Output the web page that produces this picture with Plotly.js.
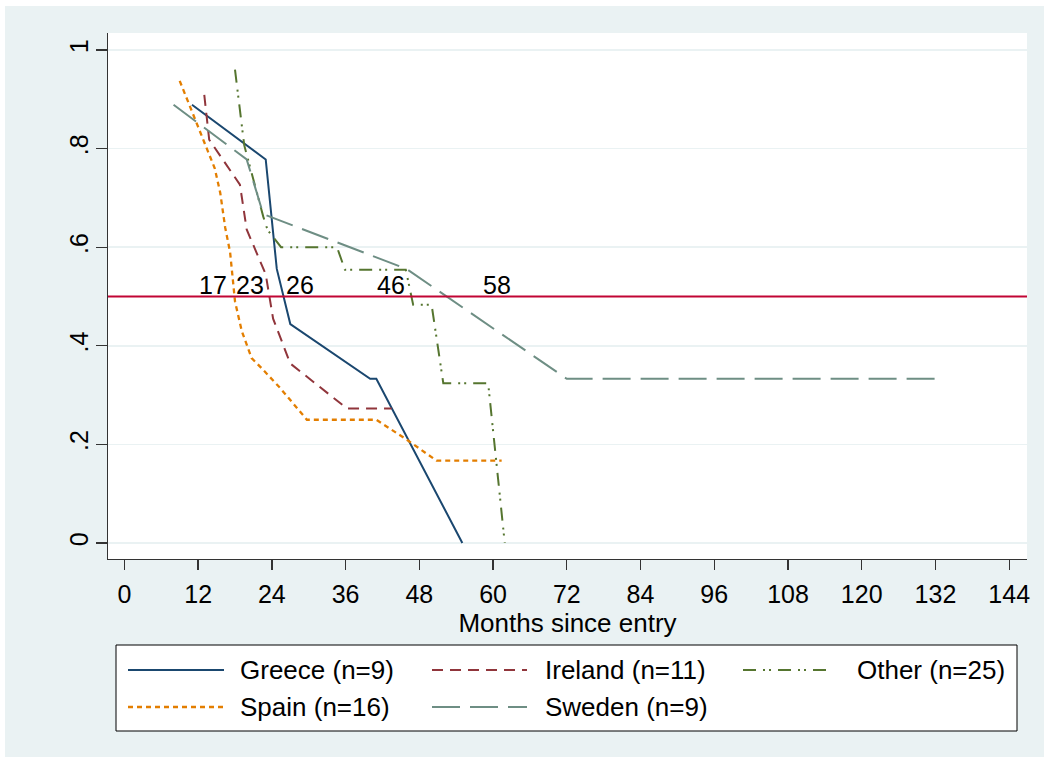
<!DOCTYPE html>
<html>
<head>
<meta charset="utf-8">
<script src="https://cdn.plot.ly/plotly-3.0.1.min.js"></script>
<style>html,body{margin:0;padding:0;background:#fff;}</style>
</head>
<body>
<div id="chart" style="width:1049px;height:763px;"></div>
<script>
// ---- data ----
const greeceX = [11, 23, 24.8, 27, 40, 41, 55];
const greeceY = [0.889, 0.778, 0.556, 0.444, 0.333, 0.333, 0];

const irelandX = [13, 13.8, 18.8, 19.9, 23, 24.2, 27, 36.2, 43.5];
const irelandY = [0.909, 0.818, 0.727, 0.636, 0.545, 0.455, 0.364, 0.273, 0.273];

const otherX = [18, 19.5, 22.6, 23.3, 25.5, 34.6, 35.9, 45.8, 47, 50, 51.9, 59.2, 61.9];
const otherY = [0.96, 0.807, 0.662, 0.635, 0.60, 0.60, 0.554, 0.554, 0.483, 0.483, 0.324, 0.324, 0];

const spainX = [9, 11.8, 14.7, 15.6, 16.4, 17.2, 18, 19.1, 20.7, 22.3, 25.3, 29.7, 41, 45.9, 50.8, 61.4];
const spainY = [0.9375, 0.85, 0.76, 0.71, 0.64, 0.59, 0.49, 0.43, 0.375, 0.355, 0.315, 0.25, 0.25, 0.21, 0.167, 0.167];

const swedenX = [8, 19.9, 22.6, 45.9, 72, 132];
const swedenY = [0.889, 0.778, 0.667, 0.556, 0.333, 0.333];

const seriesNames = ["Greece (n=9)", "Ireland (n=11)", "Other (n=25)", "Spain (n=16)", "Sweden (n=9)"];

const medianLevel = 0.5;
const medianLabels = [17, 23, 26, 46, 58];

const xTickVals = [0, 12, 24, 36, 48, 60, 72, 84, 96, 108, 120, 132, 144];
const yTickVals = [0, 0.2, 0.4, 0.6, 0.8, 1];
const yTickText = ["0", ".2", ".4", ".6", ".8", "1"];
const xTitle = "Months since entry";

// ---- styling ----
const FONT = "Liberation Sans, Arial, Helvetica, sans-serif";
const W = 1049, H = 763;
const M = {l: 108, r: 22, t: 33, b: 204};
const PW = W - M.l - M.r, PH = H - M.t - M.b;
const px = x => (x - M.l) / PW;
const py = y => (H - M.b - y) / PH;

const styles = [
  {color: "#1a476f", dash: "solid", width: 2},
  {color: "#90353b", dash: "11px,7px", width: 2},
  {color: "#55752f", dash: "13px,7px,2px,4px,2px,7px", width: 2},
  {color: "#e37e00", dash: "5px,4px", width: 2.3},
  {color: "#6e8e84", dash: "28px,10px", width: 2}
];
const seriesX = [greeceX, irelandX, otherX, spainX, swedenX];
const seriesY = [greeceY, irelandY, otherY, spainY, swedenY];

const traces = seriesNames.map((n, i) => ({
  type: "scatter", mode: "lines", name: n,
  x: seriesX[i], y: seriesY[i],
  line: {color: styles[i].color, dash: styles[i].dash, width: styles[i].width},
  showlegend: false, hoverinfo: "x+y+name"
}));

const shapes = [
  // graph region background
  {type: "rect", xref: "paper", yref: "paper", layer: "below",
   x0: px(5), x1: px(1044), y0: py(757), y1: py(6),
   fillcolor: "#eaf2f3", line: {width: 0}},
  // plot region
  {type: "rect", xref: "paper", yref: "paper", layer: "below",
   x0: 0, x1: 1, y0: 0, y1: 1, fillcolor: "#ffffff", line: {width: 0}},
  // median reference line
  {type: "line", xref: "paper", yref: "y", x0: 0, x1: 1, y0: medianLevel, y1: medianLevel,
   line: {color: "#c10534", width: 2}},
  // legend box
  {type: "rect", xref: "paper", yref: "paper",
   x0: px(116), x1: px(1017), y0: py(731), y1: py(645),
   fillcolor: "#ffffff", line: {color: "#000000", width: 1}}
];

const annotations = [];
const labelAnchors = ["right", "right", "left", "right", "left"];
medianLabels.forEach((v, i) => {
  annotations.push({
    x: v, y: medianLevel, xref: "x", yref: "y", text: String(v),
    showarrow: false, xanchor: labelAnchors[i], yanchor: "bottom",
    yshift: -5, font: {family: FONT, size: 25, color: "#000"}
  });
});

// legend (manual, Stata style)
const legPos = [
  {lx0: 128, lx1: 224, tx: 238, y: 670},
  {lx0: 432, lx1: 527, tx: 543, y: 670},
  {lx0: 743, lx1: 832, tx: 855, y: 670},
  {lx0: 128, lx1: 224, tx: 238, y: 707},
  {lx0: 432, lx1: 527, tx: 543, y: 707}
];
seriesNames.forEach((n, i) => {
  const p = legPos[i];
  shapes.push({type: "line", xref: "paper", yref: "paper",
    x0: px(p.lx0), x1: px(p.lx1), y0: py(p.y), y1: py(p.y),
    line: {color: styles[i].color, dash: styles[i].dash, width: styles[i].width}});
  annotations.push({xref: "paper", yref: "paper", x: px(p.tx), y: py(p.y),
    xanchor: "left", yanchor: "middle", showarrow: false, text: n,
    font: {family: FONT, size: 26, color: "#000"}});
});

const layout = {
  width: W, height: H, autosize: false,
  margin: {l: M.l, r: M.r, t: M.t, b: M.b, pad: 0},
  paper_bgcolor: "#ffffff", plot_bgcolor: "rgba(0,0,0,0)",
  font: {family: FONT, size: 25, color: "#000"},
  showlegend: false,
  xaxis: {
    range: [-2.67, 146.9], tickvals: xTickVals, ticktext: xTickVals.map(String),
    showgrid: false, zeroline: false, showline: true, linecolor: "#333", linewidth: 1.3,
    ticks: "outside", ticklen: 10, tickwidth: 1.3, tickcolor: "#333",
    tickfont: {family: FONT, size: 25, color: "#000"},
    ticklabelstandoff: 3,
    title: {text: xTitle, font: {family: FONT, size: 26, color: "#000"}, standoff: 1},
    automargin: false, fixedrange: true
  },
  yaxis: {
    range: [-0.0325, 1.0345], tickvals: yTickVals, ticktext: yTickText,
    tickangle: -90,
    showgrid: true, gridcolor: "#eaf2f3", gridwidth: 1.6,
    zeroline: false, showline: true, linecolor: "#333", linewidth: 1.3,
    ticks: "outside", ticklen: 11, tickwidth: 1.3, tickcolor: "#333",
    tickfont: {family: FONT, size: 25, color: "#000"},
    ticklabelstandoff: -2,
    automargin: false, fixedrange: true
  },
  shapes: shapes,
  annotations: annotations
};

Plotly.newPlot("chart", traces, layout, {displayModeBar: false, staticPlot: true});
</script>
</body>
</html>
